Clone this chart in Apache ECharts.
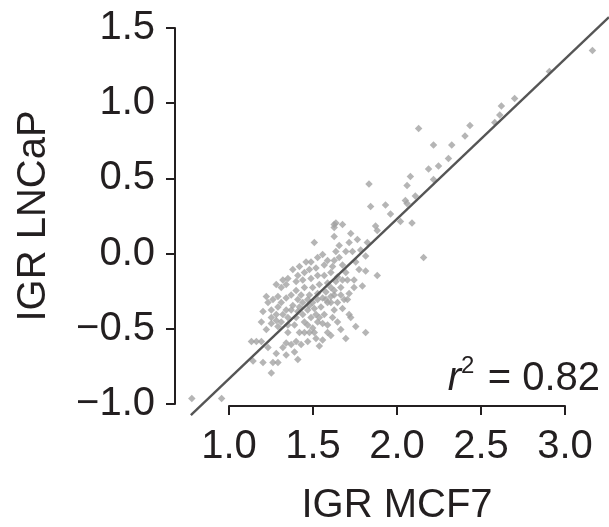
<!DOCTYPE html>
<html>
<head>
<meta charset="utf-8">
<script src="https://cdn.jsdelivr.net/npm/echarts@6/dist/echarts.min.js"></script>
<style>html,body{margin:0;padding:0;background:#fff}#c{width:609px;height:527px}</style>
</head>
<body>
<div id="c"></div>
<script>
// IGR MCF7 (x) and IGR LNCaP (y) values
const mcf7 = [3.20,2.94,2.73,2.65,2.64,2.61,2.46,2.15,2.43,2.24,2.35,2.33,2.27,2.21,2.10,2.24,1.85,2.08,2.13,2.07,2.08,1.95,1.86,1.98,2.04,2.11,1.89,1.90,2.18,1.90,
1.65,1.64,1.64,1.74,1.73,1.67,1.84,1.80,1.71,1.75,1.65,1.83,1.64,1.63,1.83,1.71,1.72,1.69,1.66,1.81,1.76,1.73,1.62,
1.69,1.73,1.74,1.77,1.83,1.71,1.62,1.62,1.64,1.60,
1.52,1.64,1.54,1.58,1.43,1.46,1.49,1.36,1.32,1.41,1.45,1.50,1.54,1.58,1.62,1.41,1.46,1.51,1.55,1.60,1.65,1.38,1.44,1.49,1.54,1.59,1.64,1.30,1.35,
1.14,1.17,1.20,1.24,1.15,1.21,1.26,1.27,1.30,1.29,1.35,1.33,1.35,1.38,1.41,1.55,1.46,1.49,1.52,1.60,1.57,1.54,1.43,1.36,1.30,1.26,1.26,1.29,1.24,1.30,1.35,1.39,1.43,1.48,1.52,1.56,1.60,1.64,1.36,1.41,1.46,1.50,1.32,1.29,1.32,1.27,1.48,1.58,1.63,
0.78,0.96,
1.42,1.45,1.51,1.54,1.57,1.38,1.42,1.53,1.55,1.48,1.51,1.40,1.36,1.33,1.45,1.49,1.59,1.62,1.68,1.68,1.70,1.66,1.69,1.67,1.60,1.57,1.50,1.53,1.42,1.47,1.39,1.33,1.29,1.35,1.69,1.78,1.77,1.79,1.76,1.72,1.66,1.68,1.57,1.53,1.48,1.44,1.40,1.42,1.23,1.20,1.21,1.26,1.23];
const lncap = [1.35,1.21,1.03,0.98,0.92,0.87,0.85,0.83,0.78,0.72,0.72,0.63,0.58,0.56,0.51,0.49,0.46,0.45,0.38,0.35,0.33,0.32,0.31,0.26,0.21,0.20,0.18,0.15,-0.03,-0.15,
0.20,0.17,0.11,0.13,0.07,0.05,0.07,0.02,0.01,0.01,0.01,-0.02,-0.05,-0.09,-0.12,-0.13,-0.18,-0.18,-0.16,-0.22,-0.23,-0.27,-0.23,
-0.37,-0.41,-0.43,-0.49,-0.53,-0.57,-0.55,-0.33,-0.28,-0.48,
0.07,0.19,-0.03,-0.08,-0.09,-0.13,-0.11,-0.17,-0.23,-0.19,-0.18,-0.17,-0.15,-0.15,-0.13,-0.25,-0.23,-0.23,-0.21,-0.20,-0.19,-0.28,-0.28,-0.28,-0.27,-0.26,-0.25,-0.29,-0.30,
-0.59,-0.59,-0.59,-0.63,-0.72,-0.73,-0.80,-0.73,-0.73,-0.67,-0.68,-0.63,-0.60,-0.61,-0.59,-0.62,-0.53,-0.53,-0.53,-0.53,-0.47,-0.46,-0.53,-0.53,-0.49,-0.47,-0.43,-0.45,-0.33,-0.36,-0.38,-0.35,-0.36,-0.38,-0.37,-0.36,-0.33,-0.38,-0.43,-0.43,-0.46,-0.43,-0.46,-0.41,-0.33,-0.31,-0.31,-0.41,-0.43,
-0.97,-0.97,
-0.31,-0.33,-0.33,-0.31,-0.30,-0.38,-0.39,-0.41,-0.43,-0.48,-0.50,-0.48,-0.48,-0.41,-0.41,-0.35,-0.31,-0.29,-0.28,-0.23,-0.31,-0.33,-0.08,-0.03,-0.05,-0.01,-0.06,-0.10,-0.15,-0.06,-0.11,-0.18,-0.21,-0.21,0.19,0.09,-0.06,-0.11,-0.18,-0.31,-0.46,-0.51,-0.58,-0.57,-0.59,-0.61,-0.66,-0.71,-0.51,-0.46,-0.39,-0.38,-0.29];
const xTicks = [1.0, 3.0, 0.5];   // min, max, step of the drawn x axis
const yTicks = [-1.0, 1.5, 0.5];  // min, max, step of the drawn y axis
const fitSlope = 1.05, fitIntercept = -1.893, fitStart = 0.774, fitEnd = 3.3;
const r2 = '0.82';

const pts = mcf7.map((x, i) => [x, lncap[i]]);
const fitLine = [fitStart, fitEnd].map(x => [x, fitSlope * x + fitIntercept]);

const FONT = "'Liberation Sans', Arial, Helvetica, sans-serif";
const INK = '#231f20';
const FS = 40;
const fmt = v => (v < 0 ? '\u2212' : '') + Math.abs(v).toFixed(1);

const chart = echarts.init(document.getElementById('c'), null, {renderer: 'canvas'});
chart.setOption({
  animation: false,
  backgroundColor: '#fff',
  grid: [
    {left: 178.6, top: 13, width: 436.8, height: 405},
    {left: 229, top: 400, width: 336, height: 13},
    {left: 175, top: 28, width: 10, height: 376}
  ],
  xAxis: [
    {gridIndex: 0, type: 'value', min: 0.7, max: 3.3, show: false},
    {gridIndex: 1, type: 'value', min: xTicks[0], max: xTicks[1], interval: xTicks[2], position: 'bottom',
     axisLine: {lineStyle: {color: INK, width: 2}}, axisTick: {show: true, length: 9, lineStyle: {color: INK, width: 2}},
     splitLine: {show: false},
     axisLabel: {fontFamily: FONT, fontSize: FS, color: INK, margin: 21, formatter: fmt},
     name: 'IGR MCF7', nameLocation: 'middle', nameGap: 80,
     nameTextStyle: {fontFamily: FONT, fontSize: FS, color: INK}},
    {gridIndex: 2, type: 'value', show: false}
  ],
  yAxis: [
    {gridIndex: 0, type: 'value', min: -1.1, max: 1.6, show: false},
    {gridIndex: 1, type: 'value', show: false},
    {gridIndex: 2, type: 'value', min: yTicks[0], max: yTicks[1], interval: yTicks[2], position: 'left',
     axisLine: {show: true, lineStyle: {color: INK, width: 2}}, axisTick: {show: true, length: 9, lineStyle: {color: INK, width: 2}},
     splitLine: {show: false},
     axisLabel: {fontFamily: FONT, fontSize: FS, color: INK, margin: 20, formatter: fmt},
     name: 'IGR LNCaP', nameLocation: 'middle', nameGap: 121,
     nameTextStyle: {fontFamily: FONT, fontSize: FS, color: INK}}
  ],
  series: [
    {type: 'scatter', xAxisIndex: 0, yAxisIndex: 0, data: pts, symbol: 'diamond', symbolSize: 7.5,
     itemStyle: {color: '#a3a3a3'}, z: 2, silent: true},
    {type: 'line', xAxisIndex: 0, yAxisIndex: 0, data: fitLine, showSymbol: false, symbol: 'none',
     lineStyle: {color: '#555', width: 2.4}, z: 3, silent: true}
  ],
  graphic: [
    {type: 'text', x: 461, y: 379, style: {text: 'r', font: 'italic ' + FS + 'px ' + FONT, fill: INK, align: 'right', verticalAlign: 'middle'}},
    {type: 'text', x: 461, y: 366, style: {text: '2', font: '24px ' + FONT, fill: INK, align: 'left', verticalAlign: 'middle'}},
    {type: 'text', x: 600, y: 379, style: {text: '= ' + r2, font: FS + 'px ' + FONT, fill: INK, align: 'right', verticalAlign: 'middle'}}
  ]
});
</script>
</body>
</html>
